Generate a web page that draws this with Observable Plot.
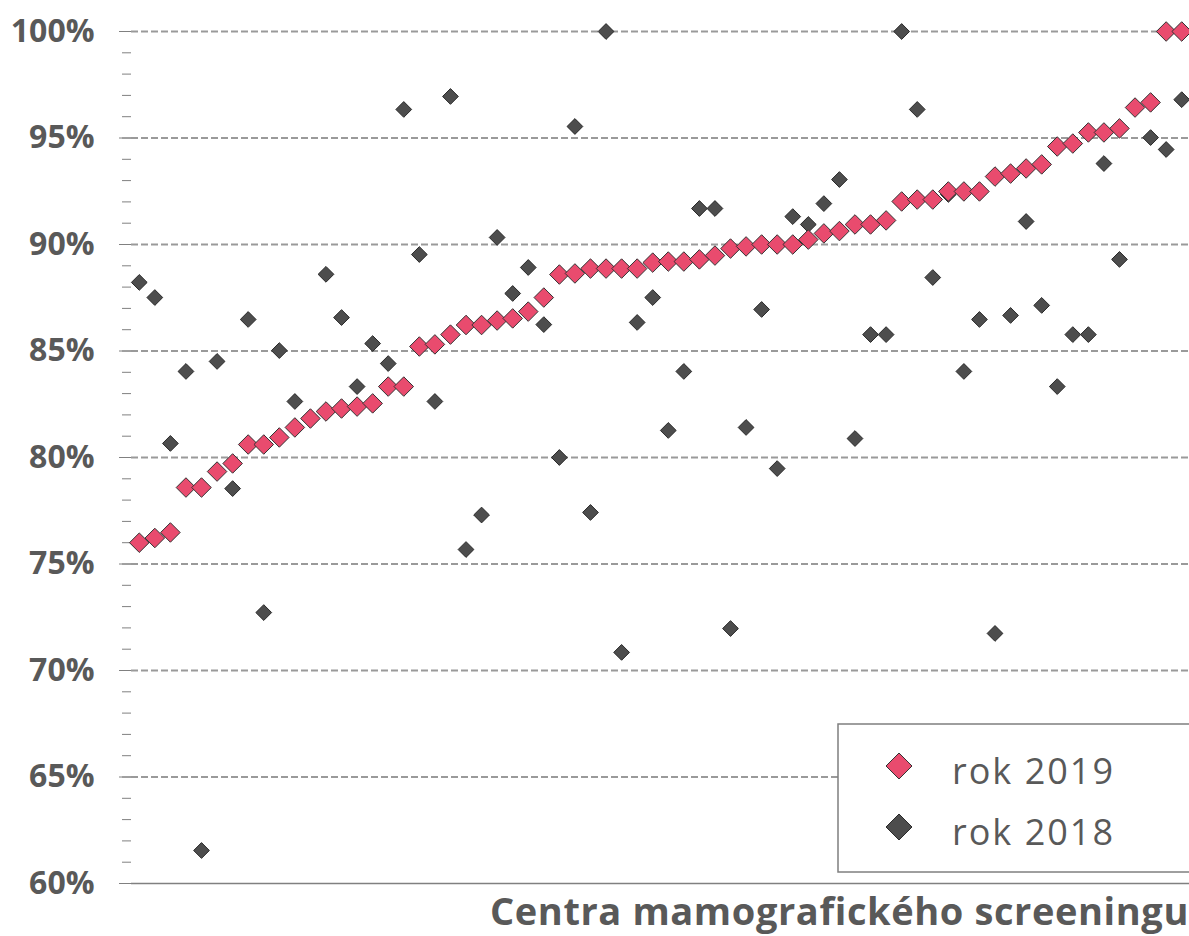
<!DOCTYPE html>
<html><head><meta charset="utf-8">
<script src="https://cdn.jsdelivr.net/npm/d3@7"></script>
<script src="https://cdn.jsdelivr.net/npm/@observablehq/plot@0.6"></script>
<style>
body{margin:0;background:#fff}
#chart{width:1189px;height:936px;overflow:hidden;position:relative}
</style>
</head><body><div id="chart"></div>
<script>
// Screening centres (one category per centre, ordered by 2019 value)
const values2019 = [76.0,76.22,76.48,78.59,78.59,79.34,79.72,80.61,80.61,80.94,
  81.41,81.83,82.16,82.30,82.39,82.54,83.33,83.33,85.21,85.31,
  85.77,86.22,86.22,86.43,86.53,86.85,87.51,88.59,88.64,88.87,
  88.87,88.87,88.87,89.15,89.2,89.2,89.3,89.48,89.81,89.91,
  90.0,90.0,90.0,90.23,90.52,90.63,90.94,90.94,91.13,92.02,
  92.11,92.11,92.49,92.49,92.49,93.19,93.33,93.57,93.76,94.6,
  94.74,95.26,95.26,95.45,96.43,96.67,100,100];
const values2018 = [88.22,87.51,80.66,84.04,61.55,84.51,78.54,86.48,72.72,85.02,
  82.63,81.8,88.6,86.57,83.33,85.35,84.41,96.34,89.53,82.63,
  96.95,75.68,77.3,90.33,87.7,88.92,86.24,80.0,95.54,77.42,
  100,70.85,86.34,87.51,81.27,84.04,91.69,91.69,71.97,81.41,
  86.95,79.48,91.31,90.94,91.92,93.05,80.89,85.77,85.77,100,
  96.34,88.45,92.35,84.04,86.48,71.74,86.67,91.08,87.14,83.33,
  85.77,85.77,93.8,89.3,96.43,95.02,94.46,96.8];
const categories = values2019.map((_, i) => i + 1);
const yTicks = [60,65,70,75,80,85,90,95,100];
const gridTicks = [65,70,75,80,85,90,95,100];
const minorTicks = d3.range(60, 101, 1);
const seriesNames = ["rok 2019", "rok 2018"];
const xTitle = "Centra mamografického screeningu";

const rows2019 = categories.map((c, i) => ({c, v: values2019[i]}));
const rows2018 = categories.map((c, i) => ({c, v: values2018[i]}));

const RED = "#e94b6e", DARK = "#4d4d4d", TEXT = "#595959", AXIS = "#808080";

const chart = Plot.plot({
  width: 1189, height: 936,
  marginLeft: 131, marginRight: 0, marginTop: 31, marginBottom: 53,
  style: {fontFamily: "'Open Sans', sans-serif", background: "#fff"},
  x: {type: "band", domain: categories, padding: 0, axis: null},
  y: {domain: [60, 100]},
  marks: [
    Plot.ruleY(gridTicks, {stroke: "#9a9a9a", strokeWidth: 2, strokeDasharray: "7,3"}),
    Plot.ruleY([60], {stroke: AXIS, strokeWidth: 1.5}),
    Plot.axisY({ticks: minorTicks, tickSize: 9, text: null, stroke: AXIS, label: null}),
    Plot.axisY({ticks: yTicks, tickSize: 12, tickPadding: 25, tickFormat: d => d + "%",
      fontSize: 32, fontWeight: "bold", color: TEXT, stroke: AXIS, line: true, label: null}),
    Plot.dot(rows2018, {x: "c", y: "v", symbol: "diamond2", r: 7.1, fill: DARK, stroke: "#2a2a2a", strokeWidth: 1}),
    Plot.dot(rows2019, {x: "c", y: "v", symbol: "diamond2", r: 8.8, fill: RED, stroke: "#333", strokeWidth: 1})
  ]
});

const svg = d3.select(chart);
// x axis title
svg.append("text")
  .attr("x", 1189).attr("y", 925)
  .attr("text-anchor", "end")
  .attr("fill", TEXT)
  .style("font-family", "'Open Sans', sans-serif")
  .style("font-size", "38px").style("font-weight", "bold")
  .style("letter-spacing", "0.6px")
  .text(xTitle);

// legend
const lg = svg.append("g").attr("text-anchor", "start");
lg.append("rect").attr("x", 838).attr("y", 724).attr("width", 400).attr("height", 148)
  .attr("fill", "#fff").attr("stroke", "#7f7f7f").attr("stroke-width", 1.5);
const items = [{name: seriesNames[0], fill: RED, stroke: "#333", y: 766},
               {name: seriesNames[1], fill: DARK, stroke: "#2a2a2a", y: 827}];
const sym = d3.symbol(d3.symbolDiamond2, Math.pow(13 / 0.62625, 2));
for (const it of items) {
  lg.append("path").attr("d", sym()).attr("transform", `translate(899,${it.y})`)
    .attr("fill", it.fill).attr("stroke", it.stroke).attr("stroke-width", 1);
  lg.append("text").attr("x", 952).attr("y", it.y + 18)
    .attr("text-anchor", "start")
    .attr("fill", TEXT)
    .style("font-family", "'Open Sans', sans-serif")
    .style("font-size", "36px").style("letter-spacing", "2px")
    .text(it.name);
}

document.getElementById("chart").appendChild(chart);
</script>
</body></html>
